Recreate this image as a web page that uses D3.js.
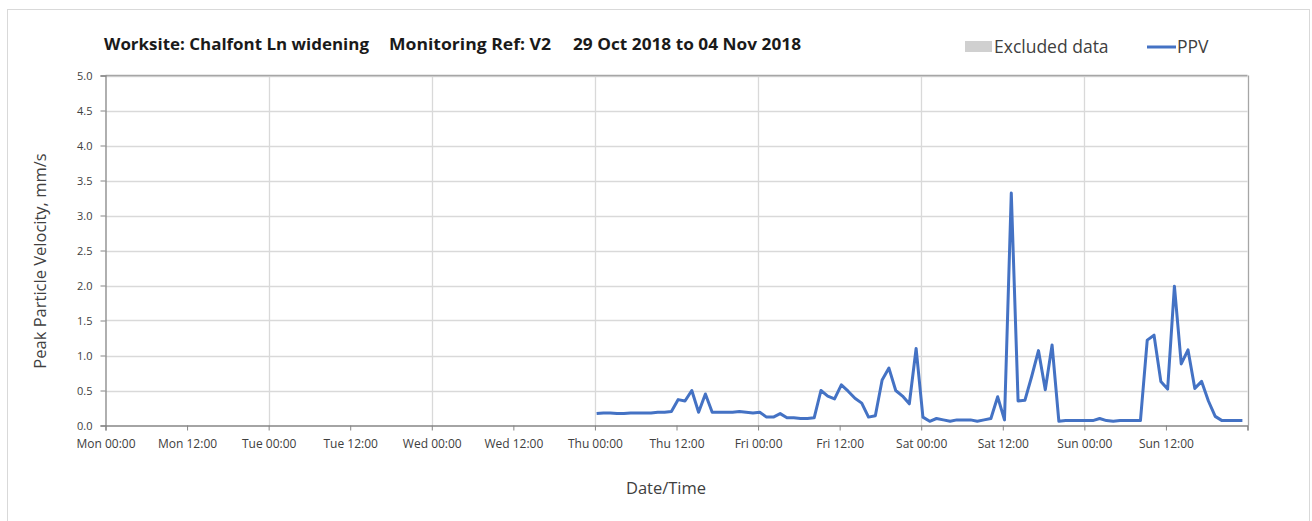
<!DOCTYPE html>
<html>
<head>
<meta charset="utf-8">
<script src="https://cdn.jsdelivr.net/npm/d3@7"></script>
<style>
  body { margin: 0; background: #fff; }
  svg text { font-family: "Open Sans", Lato, sans-serif; fill: #404040; }
</style>
</head>
<body>
<svg id="chart" width="1312" height="521"></svg>
<script>
// chart title pieces and legend labels
const titleParts = ["Worksite: Chalfont Ln widening", "Monitoring Ref: V2", "29 Oct 2018 to 04 Nov 2018"];
const legendLabels = ["Excluded data", "PPV"];
const yTitle = "Peak Particle Velocity, mm/s";
const xTitle = "Date/Time";

// x domain: Mon 29 Oct 00:00 -> Mon 05 Nov 00:00, first hourly sample
const domainStart = new Date(2018, 9, 29, 0, 0);
const domainEnd = new Date(2018, 10, 5, 0, 0);
const firstSample = new Date(2018, 10, 1, 0, 15);
const yTicks = [0, 0.5, 1, 1.5, 2, 2.5, 3, 3.5, 4, 4.5, 5];

// hourly PPV readings (mm/s)
const ppv = [
  0.17, 0.18, 0.18, 0.17, 0.17, 0.18, 0.18, 0.18, 0.18, 0.19, 0.19, 0.20,
  0.37, 0.35, 0.50, 0.19, 0.45, 0.19, 0.19, 0.19, 0.19, 0.20, 0.19, 0.18,
  0.19, 0.12, 0.12, 0.17, 0.11, 0.11, 0.10, 0.10, 0.11, 0.50, 0.42, 0.38,
  0.58, 0.49, 0.39, 0.32, 0.12, 0.14, 0.65, 0.82, 0.50, 0.42, 0.31, 1.10,
  0.12, 0.06, 0.10, 0.08, 0.06, 0.08, 0.08, 0.08, 0.06, 0.08, 0.10, 0.41,
  0.08, 3.32, 0.35, 0.36, 0.70, 1.07, 0.51, 1.15, 0.06, 0.07, 0.07, 0.07,
  0.07, 0.07, 0.10, 0.07, 0.06, 0.07, 0.07, 0.07, 0.07, 1.22, 1.29, 0.63,
  0.52, 1.99, 0.88, 1.08, 0.53, 0.63, 0.35, 0.13, 0.07, 0.07, 0.07, 0.07
];

const svg = d3.select("#chart");
const margin = { top: 75.5, left: 105.5, right: 1247.5, bottom: 425.5 };

const x = d3.scaleTime().domain([domainStart, domainEnd]).range([margin.left, margin.right]);
const y = d3.scaleLinear().domain([0, 5]).range([margin.bottom, margin.top]);

const series = ppv.map((v, i) => ({ t: d3.timeHour.offset(firstSample, i), v }));

// outer frame
svg.append("rect")
  .attr("x", 7.5).attr("y", 9.5)
  .attr("width", 1302).attr("height", 530)
  .attr("fill", "#fff")
  .attr("stroke", "#d9d9d9");

// horizontal grid
svg.append("g")
  .selectAll("line")
  .data(yTicks.slice(1))
  .enter()
  .append("line")
  .attr("x1", margin.left).attr("x2", margin.right)
  .attr("y1", (d) => Math.round(y(d)) + 0.5).attr("y2", (d) => Math.round(y(d)) + 0.5)
  .attr("stroke", "#d9d9d9")
  .attr("stroke-width", 1.3);

// vertical grid at each midnight
svg.append("g")
  .selectAll("line")
  .data(d3.timeDay.range(d3.timeDay.offset(domainStart, 1), d3.timeDay.offset(domainEnd, 1)))
  .enter()
  .append("line")
  .attr("x1", (d) => Math.round(x(d)) + 0.5).attr("x2", (d) => Math.round(x(d)) + 0.5)
  .attr("y1", margin.top).attr("y2", margin.bottom)
  .attr("stroke", (d) => (+d === +domainEnd ? "#a6a6a6" : "#d9d9d9"))
  .attr("stroke-width", 1.3);

// top border of plot
svg.append("line")
  .attr("x1", margin.left).attr("x2", margin.right)
  .attr("y1", margin.top).attr("y2", margin.top)
  .attr("stroke", "#a6a6a6")
  .attr("stroke-width", 1.3);

// y axis
const yAxis = svg.append("g")
  .attr("transform", `translate(${margin.left},0)`)
  .call(d3.axisLeft(y).tickValues(yTicks).tickFormat(d3.format(".1f")).tickSize(5).tickPadding(8));
yAxis.select(".domain").attr("stroke", "#868686").attr("stroke-width", 1.3);
yAxis.selectAll(".tick line").attr("stroke", "#868686");
yAxis.selectAll(".tick text")
  .attr("font-size", 11)
  .style("font-family", "'Open Sans', sans-serif")
  .attr("fill", "#404040");

// x axis
const xAxis = svg.append("g")
  .attr("transform", `translate(0,${margin.bottom})`)
  .call(d3.axisBottom(x)
    .ticks(d3.timeHour.every(12))
    .tickFormat((d) => (+d === +domainEnd ? "" : d3.timeFormat("%a %H:%M")(d)))
    .tickSize(5)
    .tickPadding(9));
xAxis.select(".domain").attr("stroke", "#868686").attr("stroke-width", 1.3);
xAxis.selectAll(".tick line").attr("stroke", "#868686");
xAxis.selectAll(".tick text")
  .attr("font-size", 12)
  .style("font-family", "'Open Sans', sans-serif")
  .attr("fill", "#404040");

// PPV line
const line = d3.line()
  .x((d) => x(d.t))
  .y((d) => y(d.v));

svg.append("path")
  .datum(series)
  .attr("fill", "none")
  .attr("stroke", "#4472c4")
  .attr("stroke-width", 3)
  .attr("stroke-linejoin", "round")
  .attr("d", line);

// title
const titleX = [104, 389, 573];
const titleW = [265, 162, 228];
svg.append("g")
  .selectAll("text")
  .data(titleParts)
  .enter()
  .append("text")
  .attr("x", (d, i) => titleX[i])
  .attr("y", 50)
  .attr("font-size", 15.5)
  .attr("font-weight", "bold")
  .attr("textLength", (d, i) => titleW[i])
  .attr("lengthAdjust", "spacingAndGlyphs")
  .style("fill", "#1a1a1a")
  .text((d) => d);

// legend
const legend = svg.append("g");
legend.append("rect")
  .attr("x", 965).attr("y", 41)
  .attr("width", 27).attr("height", 11)
  .attr("fill", "#d0d0d0");
legend.append("text")
  .attr("x", 994).attr("y", 53)
  .attr("font-size", 17.5)
  .text(legendLabels[0]);
legend.append("line")
  .attr("x1", 1147).attr("x2", 1176)
  .attr("y1", 47).attr("y2", 47)
  .attr("stroke", "#4472c4")
  .attr("stroke-width", 3);
legend.append("text")
  .attr("x", 1177).attr("y", 53)
  .attr("font-size", 17.5)
  .text(legendLabels[1]);

// axis titles
svg.append("text")
  .attr("transform", "translate(46,261) rotate(-90)")
  .attr("text-anchor", "middle")
  .attr("font-size", 16.5)
  .text(yTitle);

svg.append("text")
  .attr("x", 666).attr("y", 494)
  .attr("text-anchor", "middle")
  .attr("font-size", 16.5)
  .text(xTitle);
</script>
</body>
</html>
